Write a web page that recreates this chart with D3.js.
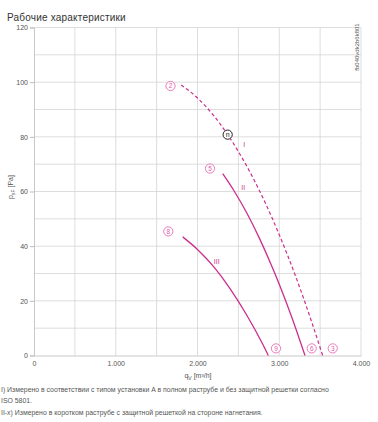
<!DOCTYPE html>
<html>
<head>
<meta charset="utf-8">
<script src="https://cdn.jsdelivr.net/npm/d3@7"></script>
<style>
body { margin: 0; background: #fff; }
text { font-family: "Liberation Sans", Arial, sans-serif; }
</style>
</head>
<body>
<script>
// curve data, qV [m3/h] / psF [Pa]
var curveI = [[1800,99],[2000,94.2],[2200,87.7],[2369,80.8],[2600,69.4],[2800,57.7],[3000,44.2],[3200,29],[3400,12],[3531,0]];
var curveII = [[2308,66.5],[2450,60.1],[2600,52.3],[2765,42.4],[2900,33.3],[3000,26.1],[3150,14.3],[3315,0]];
var curveIII = [[1819,43.4],[2000,38.8],[2200,32.4],[2400,24.4],[2600,14.9],[2800,4],[2866,0]];

var markers = [
	{id:"2", q:1670, p:98.6},
	{id:"5", q:2153, p:68.4},
	{id:"8", q:1643, p:45.4},
	{id:"9", q:2960, p:2.6},
	{id:"6", q:3397, p:2.6},
	{id:"3", q:3654, p:2.6}
];
var opPoint = {id:"n", q:2369, p:80.8};
var curveLabels = [
	{t:"I", q:2573, p:77.2},
	{t:"II", q:2560, p:61.3},
	{t:"III", q:2235, p:34.4}
];

var xTicks = [0,1000,2000,3000,4000];
var yTicks = [0,20,40,60,80,100,120];
var title = "Рабочие характеристики";
var notes = [
	"I) Измерено в соответствии с типом установки A в полном раструбе и без защитной решетки согласно",
	"ISO 5801.",
	"II-x) Измерено в коротком раструбе с защитной решеткой на стороне нагнетания."
];

var w = 378, h = 422;
var mag = "#cc2e8e", pink = "#e35aaa";

var svg = d3.select("body").append("svg")
	.attr("width", w).attr("height", h);

var x = d3.scaleLinear().domain([0,4000]).range([34,361]);
var y = d3.scaleLinear().domain([0,120]).range([355.5,27.5]);

svg.append("text").attr("x",7).attr("y",21).text(title)
	.attr("font-size",10).attr("fill","#333").attr("letter-spacing",0.2);

// grid
svg.append("g").selectAll("line").data(d3.range(500,4001,500)).join("line")
	.attr("x1",d=>x(d)).attr("x2",d=>x(d)).attr("y1",y(120)).attr("y2",y(0))
	.attr("stroke","#d4d4d4").attr("stroke-width",0.8);
svg.append("g").selectAll("line").data(d3.range(10,121,10)).join("line")
	.attr("y1",d=>y(d)).attr("y2",d=>y(d)).attr("x1",x(0)).attr("x2",x(4000))
	.attr("stroke","#d4d4d4").attr("stroke-width",0.8);

var fmt = d=>d3.format(",")(d).replace(",",".");

var xAxis = d3.axisBottom(x).tickValues(xTicks).tickFormat(fmt).tickSize(0).tickPadding(6);
var gx = svg.append("g").attr("transform","translate(0,"+y(0)+")").call(xAxis);
var yAxis = d3.axisLeft(y).tickValues(yTicks).tickSize(4).tickPadding(2);
var gy = svg.append("g").attr("transform","translate("+x(0)+",0)").call(yAxis);
[gx,gy].forEach(function(g){
	g.select(".domain").attr("stroke","#bbb").attr("stroke-width",0.8);
	g.selectAll(".tick line").attr("stroke","#bbb");
	g.selectAll(".tick text").attr("font-size",7).attr("fill","#555")
		.attr("font-family","Liberation Sans, Arial, sans-serif");
});

// axis titles
var xl = svg.append("text").attr("x",198).attr("y",378).attr("text-anchor","middle")
	.attr("font-size",7).attr("fill","#555");
xl.append("tspan").text("q");
xl.append("tspan").text("V").attr("font-size",5).attr("dy",1.5);
xl.append("tspan").text(" [m³/h]").attr("dy",-1.5);

var yl = svg.append("text").attr("transform","translate(13,187) rotate(-90)")
	.attr("text-anchor","middle").attr("font-size",7).attr("fill","#555");
yl.append("tspan").text("p");
yl.append("tspan").text("sF").attr("font-size",5).attr("dy",1.5);
yl.append("tspan").text(" [Pa]").attr("dy",-1.5);

svg.append("text").attr("transform","translate(359,47) rotate(-90)")
	.attr("text-anchor","middle").attr("font-size",6).attr("fill","#555")
	.text("fb040vdk2b6k801");

// curves
var line = d3.line().x(d=>x(d[0])).y(d=>y(d[1])).curve(d3.curveMonotoneX);
svg.append("path").datum(curveI).attr("d",line).attr("fill","none")
	.attr("stroke",mag).attr("stroke-width",1.2).attr("stroke-dasharray","3.5,2.5");
svg.append("path").datum(curveII).attr("d",line).attr("fill","none")
	.attr("stroke",mag).attr("stroke-width",1.3);
svg.append("path").datum(curveIII).attr("d",line).attr("fill","none")
	.attr("stroke",mag).attr("stroke-width",1.3);

svg.selectAll(".clab").data(curveLabels).join("text")
	.attr("x",d=>x(d.q)).attr("y",d=>y(d.p)+2.5).attr("text-anchor","middle")
	.attr("font-size",7).attr("fill",mag).text(d=>d.t);

var mk = svg.selectAll(".mk").data(markers).join("g")
	.attr("transform",d=>"translate("+x(d.q)+","+y(d.p)+")");
mk.append("circle").attr("r",4.6).attr("fill","#fff").attr("stroke",pink).attr("stroke-width",0.8);
mk.append("text").attr("y",2.3).attr("text-anchor","middle").attr("font-size",6.5)
	.attr("fill",pink).text(d=>d.id);

var op = svg.append("g").attr("transform","translate("+x(opPoint.q)+","+y(opPoint.p)+")");
op.append("circle").attr("r",4.6).attr("fill","#fff").attr("stroke","#222").attr("stroke-width",1);
op.append("text").attr("y",2.3).attr("text-anchor","middle").attr("font-size",7)
	.attr("fill","#222").text(opPoint.id);

// footnotes
svg.selectAll(".note").data(notes).join("text")
	.attr("x",1).attr("y",(d,i)=>392+i*11.3)
	.attr("font-size",6.9).attr("fill","#555").text(d=>d);
</script>
</body>
</html>
